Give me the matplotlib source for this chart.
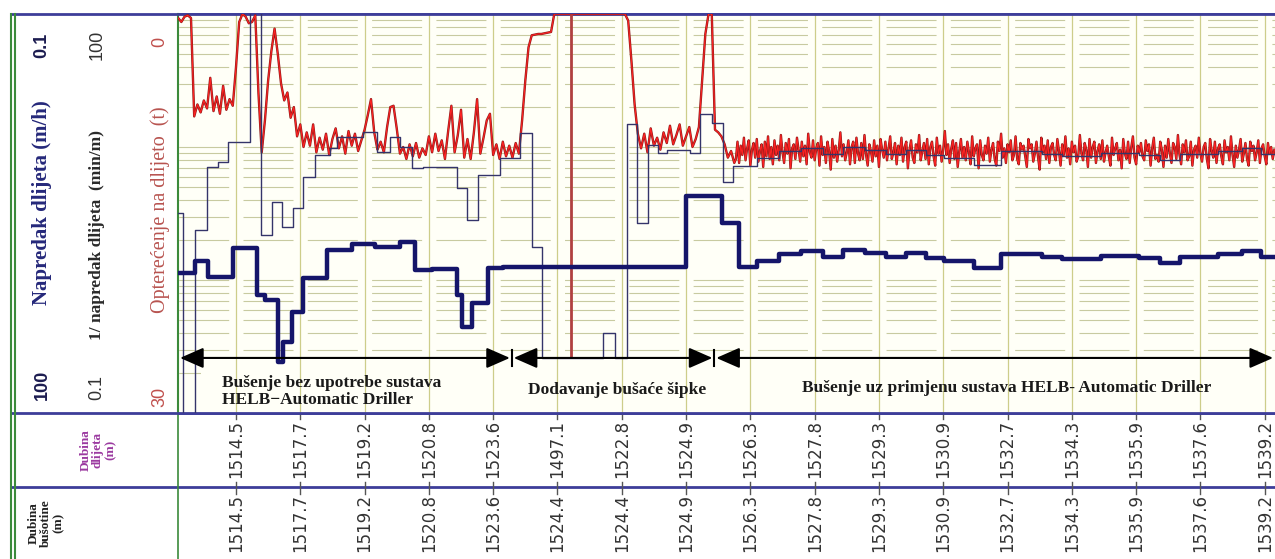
import numpy as np
import matplotlib
matplotlib.use('Agg')
import matplotlib.pyplot as plt
from matplotlib import transforms
from matplotlib.patches import Rectangle, ArrowStyle

plt.rcParams['lines.scale_dashes'] = False

# vremenske oznake (min) i dubine ispisane ispod grafa
vrijeme_oznake = [10, 20, 30, 40, 50, 60, 70, 80, 90, 100, 110, 120, 130, 140, 150, 160, 170]
dubina_dlijeta = ['1514.5', '1517.7', '1519.2', '1520.8', '1523.6', '1497.1', '1522.8', '1524.9',
                  '1526.3', '1527.8', '1529.3', '1530.9', '1532.7', '1534.3', '1535.9', '1537.6', '1539.2']
dubina_busotine = ['1514.5', '1517.7', '1519.2', '1520.8', '1523.6', '1524.4', '1524.4', '1524.9',
                   '1526.3', '1527.8', '1529.3', '1530.9', '1532.7', '1534.3', '1535.9', '1537.6', '1539.2']
vrijeme_od, vrijeme_do = 0.98, 171.6

# napredak dlijeta (m/h) - stepenice, pocetak svakog koraka (min)
rop_t = [1.0, 3.6, 5.7, 9.5, 13.3, 14.5, 16.5, 17.3, 18.7, 20.4, 24.2, 28.0, 31.6, 35.5, 37.8,
         40.5, 44.4, 45.2, 46.7, 49.2, 51.5, 80.0, 85.6, 88.2, 91.0, 94.5, 97.9, 101.3, 104.4,
         107.8, 111.1, 114.2, 117.3, 120.1, 124.8, 129.0, 135.4, 138.5, 144.5, 150.4, 153.7,
         156.8, 162.7, 166.5, 169.4, 171.6]
rop = [8.8, 7.2, 9.5, 5.7, 13.0, 14.1, 41.4, 29.3, 17.4, 9.7, 5.9, 5.4, 5.65, 5.2, 8.4,
       8.3, 13.0, 22.6, 14.9, 8.1, 8.0, 2.33, 3.7, 8.0, 7.2, 6.4, 6.05, 6.7, 5.9,
       6.3, 6.7, 6.3, 6.8, 7.2, 8.1, 6.4, 6.7, 6.95, 6.6, 6.8, 7.45,
       6.7, 6.4, 6.05, 6.7, 6.7]

# 1/napredak dlijeta (min/m)
inv_t = [1.0, 1.8, 3.6, 5.5, 7.2, 8.8, 12.2, 13.9, 15.6, 17.2, 18.9, 20.4, 22.3, 24.6, 25.7,
         29.8, 31.9, 34.0, 35.5, 37.4, 39.1, 44.4, 45.9, 47.6, 51.1, 54.2, 56.0, 57.6, 67.1,
         68.9, 70.8, 72.4, 74.1, 75.6, 77.0, 80.6, 82.2, 84.0, 85.7, 87.3, 91.0, 94.5, 97.9,
         101.3, 104.4, 107.8, 111.1, 114.2, 117.3, 120.1, 124.8, 129.0, 135.4, 138.5, 144.5,
         150.4, 153.7, 156.8, 162.7, 166.5, 169.4, 171.6]
inv_rop = [3.19, 0.09, 2.38, 7.08, 7.71, 10.9, 120, 2.18, 3.86, 2.50, 3.48, 5.95, 8.71, 9.82, 11.9,
           12.97, 9.17, 11.9, 10.0, 6.95, 7.08, 4.92, 2.83, 6.15, 8.27, 12.7, 1.77, 0.259, 0.40,
           0.259, 14.9, 2.68, 10.35, 9.02, 9.49, 9.02, 17.7, 15.1, 5.46, 7.19, 8.27, 9.33, 9.82,
           8.85, 10.0, 9.49, 8.85, 9.49, 8.71, 8.27, 7.32, 9.33, 8.85, 8.56, 9.02,
           8.71, 7.98, 8.85, 9.33, 9.82, 8.85, 8.85]

# opterecenje na dlijeto (t), uzorci svakih 0.5 min od 1.0 min
opt_a_start, opt_a_korak = 1.0, 0.5
opt_a = [0.3, 0.6, 0.2, 0.1, 0.3,
         7.7, 6.8, 7.4, 6.5, 7.1, 4.8, 7.3, 6.2, 7.5, 5.4, 7.2, 6.4, 6.9,
         4.0, 0.6, 0.0, 0.2, 0.7, 0.6, 0.1,
         6.0, 10.4, 8.0, 5.0, 2.8, 1.1,
         3.0, 5.2, 6.5, 5.9, 7.8, 7.0, 9.2, 8.3,
         10.0, 8.9, 9.9, 8.3, 10.4, 9.3, 10.2, 9.0, 10.6, 9.4,
         8.6, 10.1, 9.2, 10.5, 8.8, 9.9, 9.0, 10.3, 9.5, 8.7,
         7.6, 6.4, 8.9, 10.2, 9.6, 10.4, 8.5, 7.0, 6.9, 8.6,
         10.5, 10.0, 10.9, 9.8, 10.7, 9.7, 10.8, 10.1, 10.6, 9.2,
         10.4, 9.0, 10.3, 9.5, 10.9, 8.8, 6.9, 10.4, 9.1, 7.2,
         10.8, 9.4, 10.9, 8.9, 6.4, 10.5, 9.3, 8.0, 7.5, 10.6,
         9.8, 10.9, 9.6, 10.7, 9.9, 10.8, 9.7, 10.5,
         8.0, 5.0, 2.5, 1.6, 1.55, 1.5, 1.5, 1.45, 1.4, 1.35,
         0.0, 0.0, 0.0, 0.0, 0.0, 0.0, 0.0, 0.0, 0.0, 0.0, 0.0, 0.0,
         0.0, 0.0, 0.0, 0.0, 0.0, 0.0, 0.0, 0.0, 0.0, 0.0, 0.0,
         0.5, 3.5, 6.8, 9.0,
         10.1, 9.0, 10.4, 8.6, 9.9, 9.3, 10.2, 8.9, 9.7, 8.4, 9.8, 9.1, 8.3, 9.9, 9.2, 8.5, 10.0, 9.4,
         8.5, 5.0, 1.5, 0.0, 0.0,
         8.7, 8.9, 9.2, 9.8, 10.8, 10.3, 11.2]
# gusci uzorci (svakih 0.25 min) za rad s automatskim bušenjem
opt_b_start, opt_b_korak = 87.75, 0.25
opt_b = [10.9, 9.6, 11.2, 9.9, 10.6, 9.3, 11.0, 10.1, 9.5, 11.4, 10.2, 9.7,
         10.8, 9.4, 11.1, 10.3, 9.8, 11.5, 9.6, 10.7, 9.2, 10.9, 10.0, 11.3,
         9.5, 10.6, 9.9, 11.0, 9.1, 10.4, 11.2, 9.7, 10.5, 9.4, 11.6, 10.1,
         9.8, 10.9, 9.3, 10.2, 11.1, 9.6, 10.7, 9.9, 11.3, 9.0, 10.4, 10.8,
         9.5, 11.0, 10.1, 9.7, 11.4, 9.2, 10.6, 10.0, 11.2, 9.6, 10.3, 11.7,
         9.4, 10.8, 9.9, 11.1, 10.2, 8.9, 10.7, 9.8, 11.0, 10.4, 9.5, 11.3,
         10.0, 9.6, 11.2, 9.3, 10.5, 11.0, 9.7, 10.9, 9.1, 10.6, 11.4, 9.8,
         10.3, 11.1, 9.5, 10.7, 9.9, 11.5, 9.4, 10.2, 10.8, 9.6, 11.0, 10.1,
         9.2, 10.9, 10.4, 9.7, 11.3, 9.9, 10.6, 9.3, 11.1, 10.0, 9.6, 11.6,
         10.2, 9.5, 10.8, 11.2, 9.8, 10.4, 9.1, 11.0, 10.3, 9.7, 10.9, 9.4,
         11.3, 10.0, 9.6, 10.7, 11.4, 9.3, 10.5, 9.9, 11.1, 10.2, 8.8, 10.6,
         9.8, 11.2, 10.1, 9.5, 10.9, 9.7, 11.5, 10.3, 9.4, 10.8, 10.0, 11.0,
         9.6, 10.4, 11.3, 9.2, 10.7, 10.1, 9.8, 11.6, 9.5, 10.6, 11.0, 9.9,
         10.5, 9.3, 11.1, 10.2, 9.7, 10.9, 11.4, 9.6, 10.3, 9.0, 10.8, 10.1,
         11.2, 9.8, 10.4, 9.5, 11.0, 10.6, 9.2, 10.9, 11.3, 9.7, 10.2, 9.9,
         10.7, 11.5, 9.4, 10.1, 9.8, 11.1, 10.5, 9.6, 10.8, 11.7, 9.3, 10.4,
         9.9, 10.9, 9.5, 11.2, 10.0, 9.7, 10.6, 11.0, 9.4, 10.3, 11.4, 9.8,
         10.6, 9.2, 10.8, 10.1, 11.3, 9.6, 10.4, 9.9, 11.1, 10.7, 9.1, 10.5,
         11.0, 9.7, 10.2, 11.5, 9.4, 10.8, 10.0, 9.6, 11.2, 10.3, 9.8, 10.9,
         9.5, 11.1, 10.4, 9.9, 10.7, 11.4, 9.3, 10.6, 10.1, 9.7, 11.0, 10.2,
         11.6, 9.4, 10.5, 10.9, 9.6, 11.2, 10.0, 9.2, 10.8, 11.3, 9.9, 10.4,
         9.7, 10.7, 11.0, 9.5, 10.3, 9.8, 11.4, 10.1, 9.3, 10.9, 10.6, 11.1,
         9.6, 10.2, 11.5, 9.9, 10.8, 9.4, 10.5, 11.2, 9.7, 10.0, 10.9, 9.1,
         10.6, 11.3, 9.8, 10.4, 9.5, 11.0, 10.7, 9.6, 11.4, 10.2, 9.9, 10.8,
         9.3, 10.5, 11.1, 10.0, 9.7, 10.9, 11.6, 9.4, 10.3, 10.8, 9.6, 11.2,
         10.1, 9.8, 10.7, 11.3, 9.5, 10.4, 10.0, 11.0, 9.2, 10.6, 11.5, 9.9,
         10.8, 10.2, 9.4, 11.1, 10.5, 9.7, 10.9, 11.4, 9.6, 10.3, 9.9, 11.0,
         10.4, 9.5, 11.2, 10.1, 9.8, 10.7, 11.3, 9.7, 10.5, 10.0, 10.9, 10.2]

# okomita crvena oznaka (spajanje sipke)
spoj_t = 62.1
spoj_opt = 25.9

faze = ['Bušenje bez upotrebe sustava\nHELB\u2212Automatic Driller',
        'Dodavanje bušaće šipke',
        'Bušenje uz primjenu sustava HELB- Automatic Driller']
faze_granice = [1.0, 52.9, 84.4, 171.6]

plava = '#3d3d99'
zelena = '#3b8a3b'
serif = ['Liberation Serif', 'DejaVu Serif']
sans = ['Liberation Sans', 'DejaVu Sans']

fig = plt.figure(figsize=(12.75, 5.59), dpi=100)

# pozadina: okvir tablice i zaglavlja (pikseli)
bg = fig.add_axes([0, 0, 1, 1])
bg.set_xlim(0, 1275)
bg.set_ylim(559, 0)
bg.axis('off')
for yy in [14, 413, 487]:
    bg.plot([11, 1275], [yy, yy], color=plava, lw=2)
bg.plot([11, 11], [14, 559], color=zelena, lw=1.5)
bg.plot([15, 15], [14, 559], color=zelena, lw=1.5)
bg.plot([177.5, 177.5], [14, 559], color=zelena, lw=1.2)

# zaglavlje lijevo
bg.text(42, 45, '0.1', rotation=90, ha='center', va='center', fontsize=13, fontweight='bold',
        family=sans, color='#1c1c50')
bg.text(42, 203, 'Napredak dlijeta (m/h)', rotation=90, ha='center', va='center', fontsize=15,
        fontweight='bold', family=serif, color='#25287a')
bg.text(42, 385, '100', rotation=90, ha='center', va='center', fontsize=13, fontweight='bold',
        family=sans, color='#1c1c50')
bg.text(97, 45, '100', rotation=90, ha='center', va='center', fontsize=13, family=sans, color='#333333')
bg.text(97, 235, '1/ napredak dlijeta  (min/m)', rotation=90, ha='center', va='center', fontsize=12.5,
        fontweight='bold', family=serif, color='#2a2a2a')
bg.text(97, 388, '0.1', rotation=90, ha='center', va='center', fontsize=13, family=sans, color='#333333')
bg.text(160, 42, '0', rotation=90, ha='center', va='center', fontsize=13, family=sans, color='#c0504d')
bg.text(160, 210, 'Opterećenje na dlijeto  (t)', rotation=90, ha='center', va='center', fontsize=14.5,
        family=serif, color='#b85450')
bg.text(160, 397, '30', rotation=90, ha='center', va='center', fontsize=13, family=sans, color='#c0504d')

bg.text(98, 450, 'Dubina\ndlijeta\n(m)', rotation=90, ha='center', va='center', fontsize=9.5,
        fontweight='bold', family=serif, color='#9b3aa0', linespacing=1.05)
bg.text(46, 523, 'Dubina\nbušotine\n(m)', rotation=90, ha='center', va='center', fontsize=9.5,
        fontweight='bold', family=serif, color='#222222', linespacing=1.05)

# glavni graf
ax = fig.add_axes([178 / 1275, 1 - 413 / 559, 1 - 178 / 1275, 399 / 559])
ax.set_xlim(vrijeme_od, vrijeme_do)
ax.set_yscale('log')
ax.set_ylim(0.1, 100)
ax.set_facecolor('#fffff7')
ax.set_axisbelow(True)
ax.grid(which='both', axis='y', color='#c8caa0', lw=0.8, linestyle=(45.8, (36, 10.3)))
ax.set_xticks(vrijeme_oznake)
ax.tick_params(which='both', length=0, labelleft=False, labelbottom=False)
for s in ['top', 'bottom']:
    ax.spines[s].set_color(plava)
    ax.spines[s].set_linewidth(2)
ax.spines['left'].set_color(zelena)
ax.spines['left'].set_linewidth(1.5)
ax.spines['right'].set_visible(False)

tr_ax = transforms.blended_transform_factory(ax.transData, ax.transAxes)
ax.add_patch(Rectangle((4.5, 0), vrijeme_do - 4.5, 0.13, transform=tr_ax, fc='#fffff7', ec='none', zorder=0.6))
ax.vlines(vrijeme_oznake, 0, 1, transform=tr_ax, color='#cdcd8a', lw=0.9, zorder=0.7)

# opterecenje
ax_opt = ax.twinx()
ax_opt.set_ylim(30, 0)
ax_opt.axis('off')
t_opt = np.concatenate([opt_a_start + opt_a_korak * np.arange(len(opt_a)),
                        opt_b_start + opt_b_korak * np.arange(len(opt_b))])
v_opt = np.concatenate([opt_a, opt_b])
ax_opt.plot(t_opt, v_opt, color='#8e1a1a', lw=1.7)
ax_opt.plot(t_opt, v_opt, color='#ff2222', lw=0.8)
ax_opt.vlines(spoj_t, 0, spoj_opt, color='#b04040', lw=2)

# 1/napredak
ax_inv = ax.twinx()
ax_inv.set_yscale('log')
ax_inv.set_ylim(0.1, 100)
ax_inv.axis('off')
ax_inv.step(inv_t, inv_rop, where='post', color='#34346a', lw=1.0)

# napredak
ax_rop = ax.twinx()
ax_rop.set_yscale('log')
ax_rop.set_ylim(100, 0.1)
ax_rop.axis('off')
ax_rop.step(rop_t, rop, where='post', color='#15156a', lw=3.2)

# faze busenja
y_str = 0.138
stil = ArrowStyle('<|-|>', head_length=0.8, head_width=0.35)
for a, b in zip(faze_granice[:-1], faze_granice[1:]):
    ax_rop.annotate('', xy=(b - 0.3, y_str), xytext=(a + 0.3, y_str), xycoords=tr_ax, textcoords=tr_ax,
                    arrowprops=dict(arrowstyle=stil, mutation_scale=18, color='black', lw=1.5,
                                    shrinkA=0, shrinkB=0))
for g in faze_granice[1:-1]:
    ax_rop.plot([g, g], [y_str - 0.02, y_str + 0.02], transform=tr_ax, color='black', lw=1.5)

ax_rop.text(7.8, 0.053, faze[0], transform=tr_ax, ha='left', va='center', fontsize=12.5,
            fontweight='bold', family=serif, color='#1a1a1a', linespacing=1.1)
ax_rop.text(69.3, 0.058, faze[1], transform=tr_ax, ha='center', va='center', fontsize=12.5,
            fontweight='bold', family=serif, color='#1a1a1a')
ax_rop.text(129.9, 0.063, faze[2], transform=tr_ax, ha='center', va='center', fontsize=12.5,
            fontweight='bold', family=serif, color='#1a1a1a')

# dubine ispod grafa
tr_red = transforms.blended_transform_factory(ax.transData, bg.transData)
for t, d1, d2 in zip(vrijeme_oznake, dubina_dlijeta, dubina_busotine):
    bg.text(t, 420, d1, transform=tr_red, rotation=90, ha='center', va='top', fontsize=12,
            family=['DejaVu Sans'], color='#333333')
    bg.text(t, 494, d2, transform=tr_red, rotation=90, ha='center', va='top', fontsize=12,
            family=['DejaVu Sans'], color='#333333')
    bg.plot([t, t], [413, 419], transform=tr_red, color='#555555', lw=1)
    bg.plot([t, t], [482, 494], transform=tr_red, color='#555555', lw=1)

fig.savefig('out.png', dpi=100)
